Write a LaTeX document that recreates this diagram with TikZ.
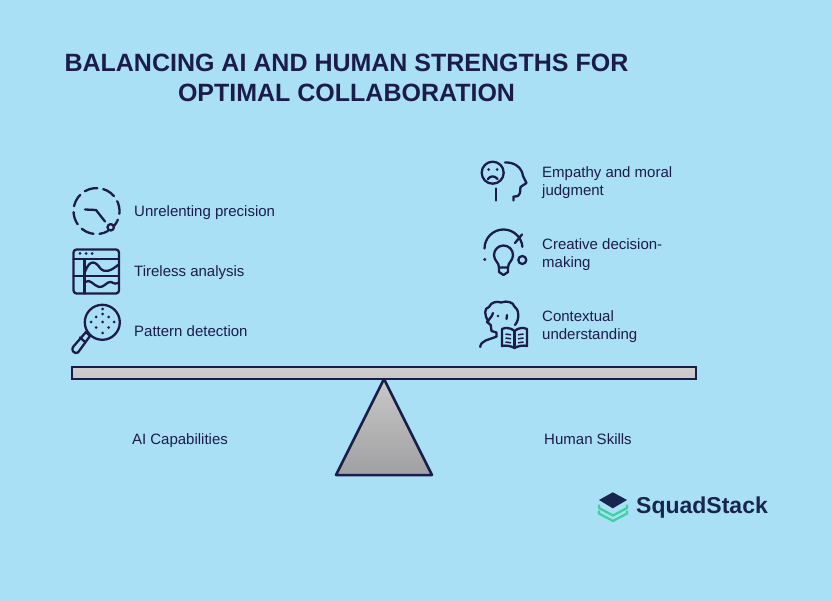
\documentclass[tikz,border=0pt]{standalone}
\usepackage{fontspec}
\setmainfont{Liberation Sans}
\definecolor{skybg}{RGB}{170, 224, 246}
\definecolor{inkdark}{RGB}{28, 28, 75}
\definecolor{beamgrey}{RGB}{200, 200, 200}
\definecolor{basegrey}{RGB}{160, 160, 162}
\definecolor{logodark}{RGB}{22, 38, 78}
\definecolor{logogreen}{RGB}{62, 208, 160}
\tikzset{
    skilltext/.style={anchor=west, align=left, text=inkdark, font=\fontsize{15}{18}\selectfont, inner sep=0pt},
    sidetext/.style={text=inkdark, font=\fontsize{15}{18}\selectfont, inner sep=0pt},
    titletext/.style={text=inkdark, align=center, font=\fontsize{25}{30}\selectfont\bfseries, inner sep=0pt},
    iconline/.style={draw=inkdark, line width=2.3pt, line cap=round, line join=round},
    icondot/.style={fill=inkdark, draw=none},
}
\begin{document}
\begin{tikzpicture}[x=1pt, y=-1pt]
    % background
    \fill[skybg] (0,0) rectangle (832,601);
    \useasboundingbox (0,0) rectangle (832,601);

    % title
    \node[titletext] (title) at (346.5,77.5) {BALANCING AI AND HUMAN STRENGTHS FOR\\OPTIMAL COLLABORATION};

    % left labels
    \node[skilltext] (precision) at (134,212.5) {Unrelenting precision};
    \node[skilltext] (analysis) at (134,272.5) {Tireless analysis};
    \node[skilltext] (pattern) at (134,331.5) {Pattern detection};

    % right labels
    \node[skilltext] (empathy) at (542,183) {Empathy and moral\\judgment};
    \node[skilltext] (creative) at (542,255) {Creative decision-\\making};
    \node[skilltext] (context) at (542,327) {Contextual\\understanding};

    % icon: dashed dial
    \draw[iconline, dash pattern=on 13pt off 6pt, dash phase=4pt] (108,231) arc (60:400:23);
    \draw[iconline] (110.7,227.3) circle (3.2);
    \draw[iconline] (85,209.5) -- (96,210) -- (105,221.5);

    % icon: dashboard
    \draw[iconline, rounded corners=3pt] (73.5,249.5) rectangle (119,293.5);
    \draw[iconline] (73.5,259) -- (119,259);
    \draw[iconline] (84.5,259) -- (84.5,293.5);
    \draw[iconline] (73.5,276) -- (119,276);
    \foreach \px in {80,86,92} \fill[icondot] (\px,253.5) circle (1.5);
    \draw[iconline] (85,272) .. controls (90,258) and (96,262) .. (100,268) .. controls (105,274) and (112,270) .. (118,265);
    \draw[iconline] (85,282) .. controls (90,278) and (94,286) .. (99,287) .. controls (104,288) and (107,281) .. (111,282) .. controls (114,283) and (116,285) .. (118,283);

    % icon: magnifier
    \draw[iconline] (102.3,322.3) circle (17.5);
    \foreach \px/\py in {102.5/314, 96/317, 108.5/317, 91/322, 102.5/322, 114/322, 96/327.5, 108.5/327.5, 102.5/333, 102.5/309}
        \fill[icondot] (\px,\py) circle (1.5);
    \draw[iconline] (90,336) -- (86,332) -- (73,347) .. controls (71,350) and (74,354.5) .. (78,352.5) -- cycle;
    \draw[iconline] (84.5,341.5) -- (80,337.5);

    % icon: sad face and head
    \draw[iconline] (492.7,172.7) circle (11);
    \fill[icondot] (488.5,169.5) circle (1.5);
    \fill[icondot] (497,169.5) circle (1.5);
    \draw[iconline] (488,179) .. controls (490,175.5) and (495,175.5) .. (497.5,179);
    \draw[iconline] (505,162.5) .. controls (515,162) and (522,168) .. (523,176) -- (526.5,183) -- (520.5,187) -- (520,193) .. controls (520,196) and (517,196.5) .. (513.5,196.5) -- (513.5,200.5);
    \draw[iconline] (496,188.5) -- (496,200.5);

    % icon: light bulb
    \draw[iconline] (484.5,248.5) arc (180:355:19);
    \draw[iconline] (515,243) -- (522,234.5);
    \fill[icondot] (484.7,259.5) circle (1.6);
    \draw[iconline] (522.3,260) circle (4);
    \draw[iconline] (499,267.5) .. controls (499,262) and (494,261) .. (494,255) arc (180:360:9.5) .. controls (513,261) and (508,262) .. (508,267.5) -- cycle;
    \draw[iconline] (499,267.5) -- (499,272) -- (503.5,275) -- (508,272) -- (508,267.5);

    % icon: reader with book
    \draw[iconline] (488.5,321.5) .. controls (484,315) and (484,308) .. (489,307) .. controls (491,302) and (497,301) .. (501,302.5) .. controls (507,300) and (514,303) .. (514,306) .. controls (519,309) and (520,319) .. (515,325);
    \draw[iconline] (493,313) .. controls (492,317) and (489,319) .. (487,322) -- (490.7,325) -- (491.5,331) -- (496.5,332.5) -- (496.5,336.5);
    \draw[iconline] (496.5,336.5) .. controls (489,340) and (481,340) .. (480.2,347);
    \fill[icondot] (498,316) circle (1.3);
    \draw[iconline] (507,315) -- (506.5,319);
    \draw[iconline] (502,329) .. controls (506,327) and (511,328) .. (514.5,331) .. controls (518,328) and (523,327) .. (527,329) -- (527,346) .. controls (523,345) and (518,346) .. (514.5,348) .. controls (511,346) and (506,345) .. (502,346) -- cycle;
    \draw[iconline] (514.5,331) -- (514.5,348);
    \foreach \py in {334,338,342} {
        \draw[draw=inkdark, line width=1.5pt] (505.5,\py) -- (511,\py+0.8);
        \draw[draw=inkdark, line width=1.5pt] (518,\py+0.8) -- (523.5,\py);
    }

    % beam and base
    \draw[draw=inkdark, line width=2.5pt, top color=beamgrey!90!white, bottom color=beamgrey] (72,367) rectangle (696,379);
    \draw[draw=inkdark, line width=2.5pt, line join=round, top color=beamgrey, bottom color=basegrey] (384,379) -- (432,475) -- (336,475) -- cycle;

    % scale labels
    \node[sidetext] (ailabel) at (180,441) {AI Capabilities};
    \node[sidetext] (humanlabel) at (588,439) {Human Skills};

    % logo
    \draw[logogreen, line width=2.3pt, line join=round] (599,504.5) -- (599,508) -- (613,515.5) -- (627,508) -- (627,504.5);
    \draw[logogreen, line width=2.3pt, line join=round] (599,510.5) -- (599,513.5) -- (613,521) -- (627,513.5) -- (627,510.5);
    \fill[logodark] (612.8,492.3) -- (627,500) -- (612.8,508.3) -- (599,500) -- cycle;
    \node[anchor=west, inner sep=0pt, text=logodark, font=\fontsize{23}{23}\selectfont\bfseries] (logotext) at (636,507.5) {SquadStack};
\end{tikzpicture}
\end{document}
